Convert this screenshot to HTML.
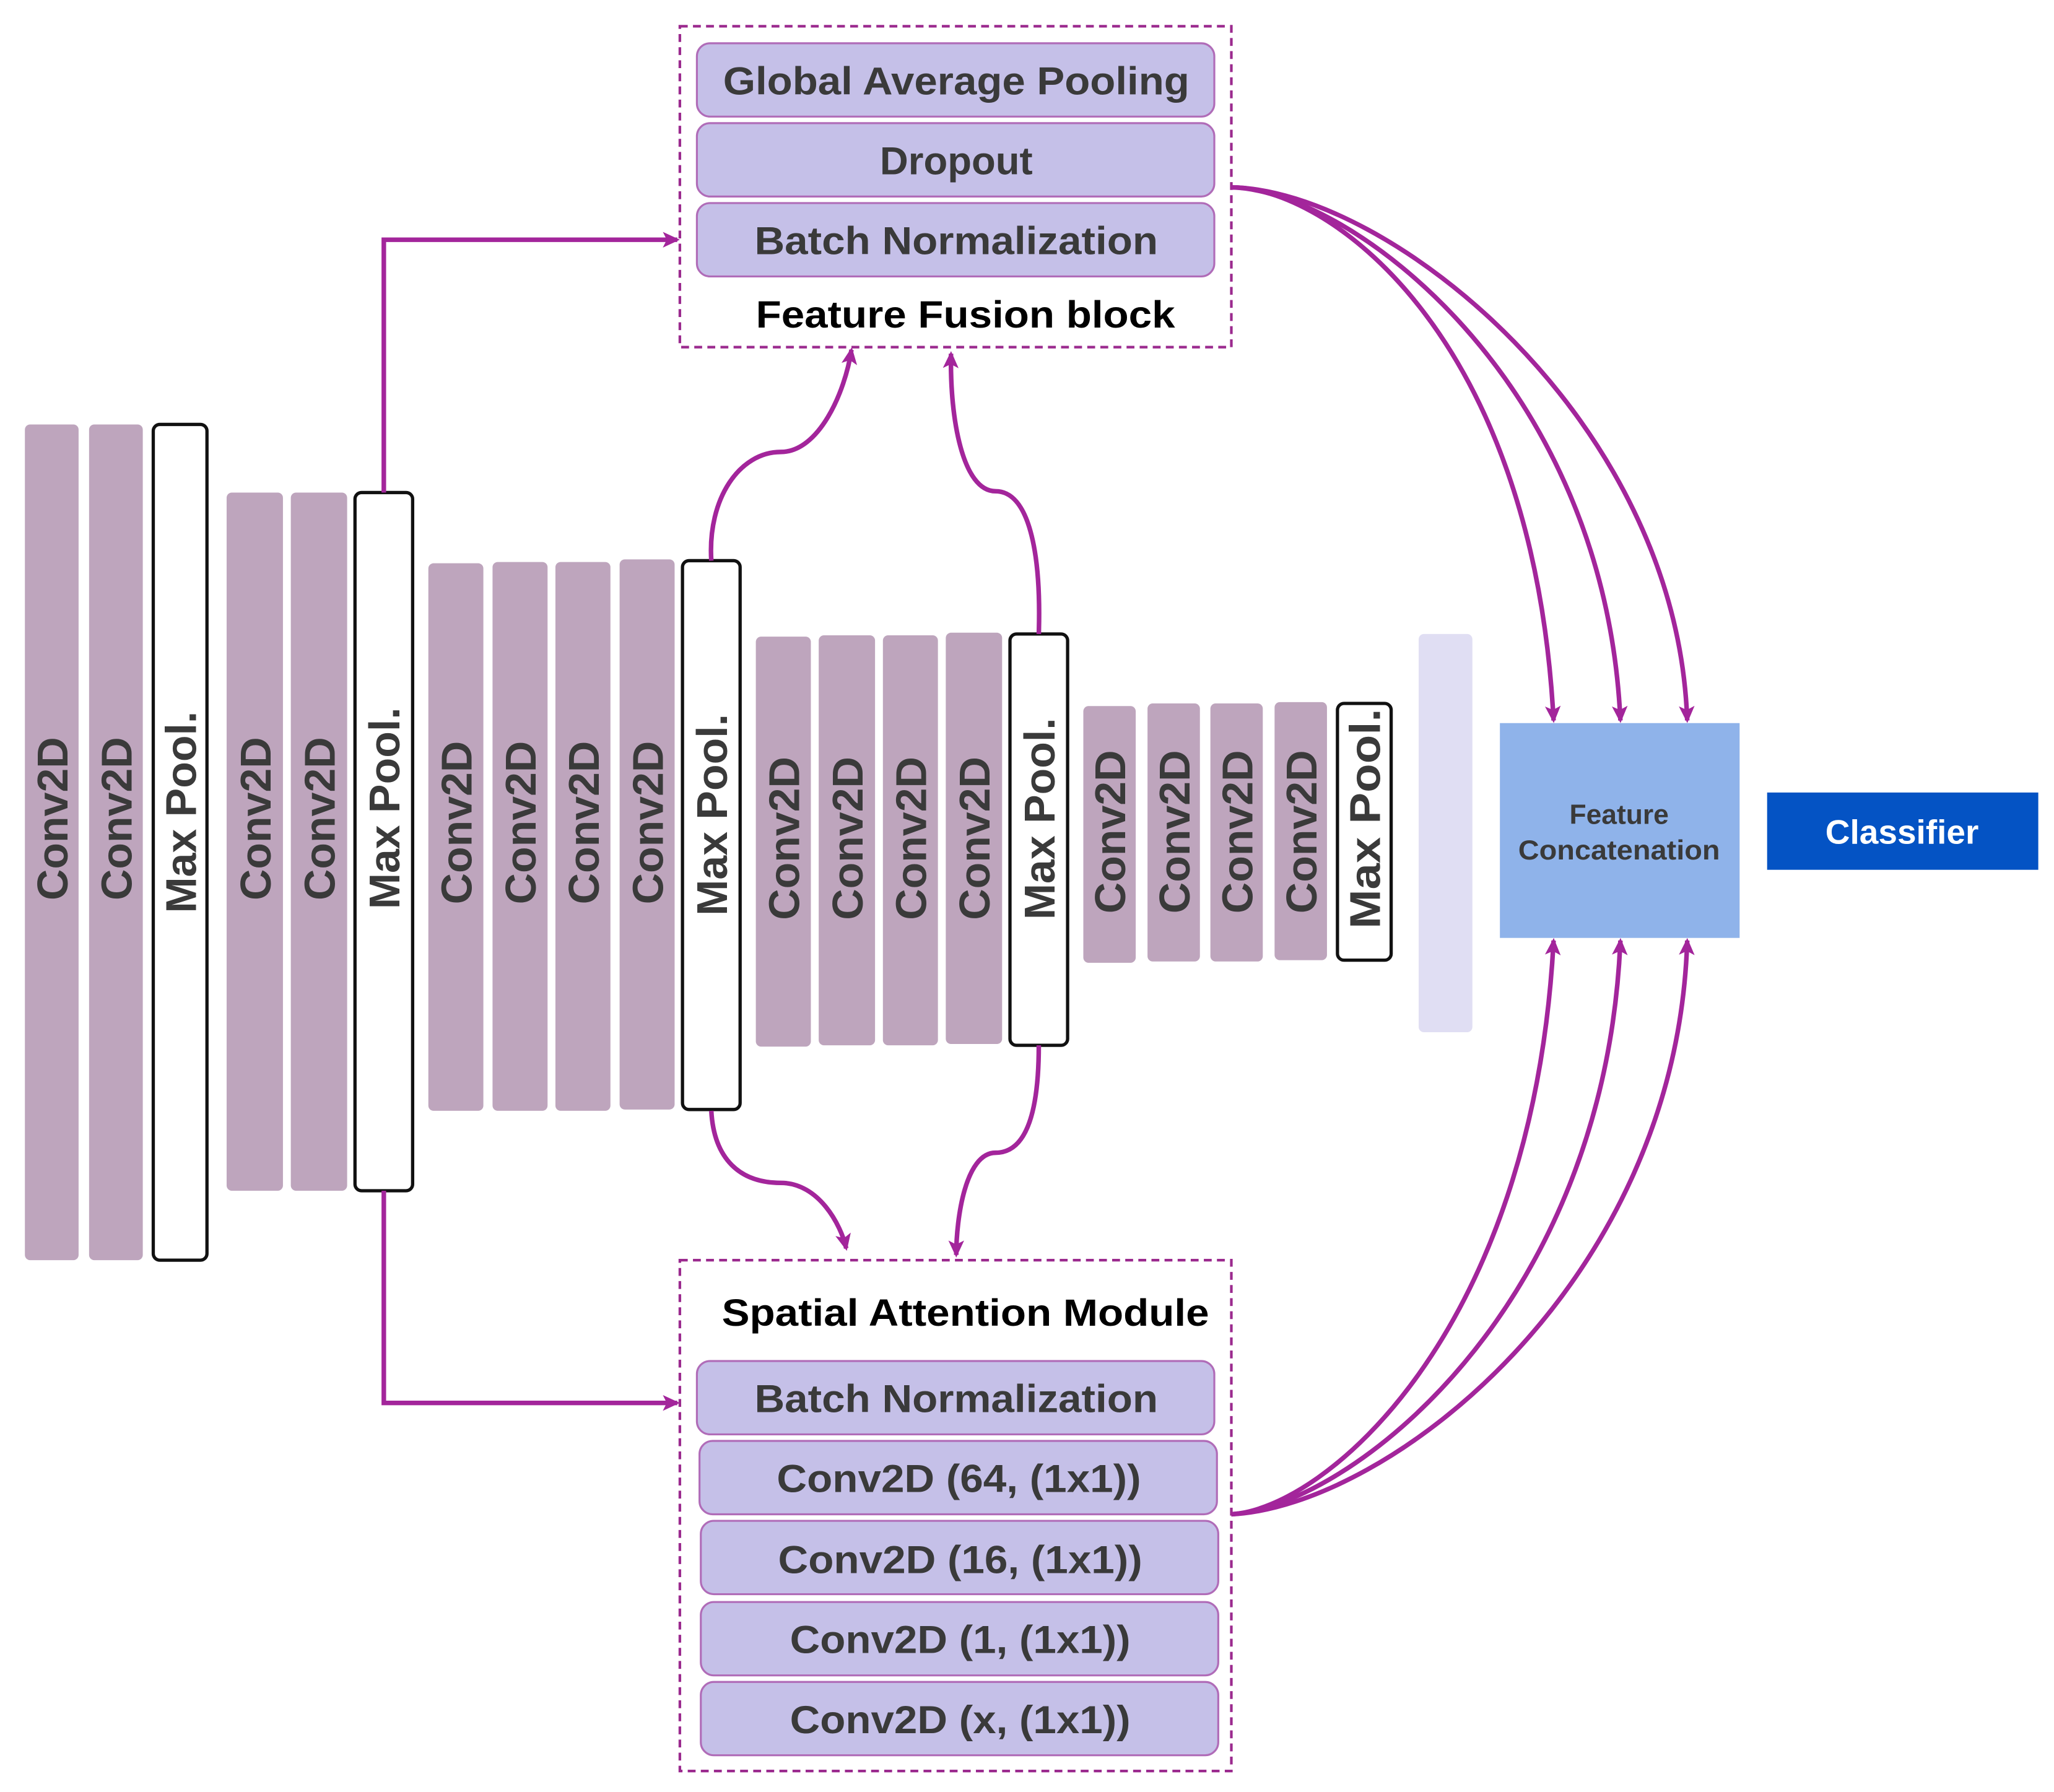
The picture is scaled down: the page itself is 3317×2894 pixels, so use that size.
<!DOCTYPE html>
<html><head><meta charset="utf-8"><style>html,body{margin:0;padding:0;background:#fff}svg{display:block}</style></head>
<body>
<svg xmlns="http://www.w3.org/2000/svg" width="3317" height="2894" viewBox="0 0 1568 1368">
<defs>
<marker id="ah" markerWidth="14" markerHeight="12" refX="11" refY="6" orient="auto" markerUnits="userSpaceOnUse">
<path d="M0,0 L13,6 L0,12 L3,6 z" fill="#a3259b"/>
</marker>
</defs>
<g font-family="Liberation Sans, Arial, sans-serif" font-weight="bold">
<rect x="519" y="20" width="421" height="245" fill="none" stroke="#9b2a8e" stroke-width="2" stroke-dasharray="6,4"/>
<g fill="#c5c0e8" stroke="#b06cb8" stroke-width="1.5">
<rect x="532" y="33" width="395" height="56" rx="10"/>
<rect x="532" y="94" width="395" height="56" rx="10"/>
<rect x="532" y="155" width="395" height="56" rx="10"/>
</g>
<g fill="#3a3a3a" font-size="30" text-anchor="middle">
<text x="730" y="72" textLength="356" lengthAdjust="spacingAndGlyphs">Global Average Pooling</text>
<text x="730" y="133">Dropout</text>
<text x="730" y="194" textLength="308" lengthAdjust="spacingAndGlyphs">Batch Normalization</text>
</g>
<text x="737" y="250" font-size="29" text-anchor="middle" fill="#000" textLength="320" lengthAdjust="spacingAndGlyphs">Feature Fusion block</text>

<rect x="519" y="962" width="421" height="390" fill="none" stroke="#9b2a8e" stroke-width="2" stroke-dasharray="6,4"/>
<text x="737" y="1012" font-size="29" text-anchor="middle" fill="#000" textLength="372" lengthAdjust="spacingAndGlyphs">Spatial Attention Module</text>
<g fill="#c5c0e8" stroke="#b06cb8" stroke-width="1.5">
<rect x="532" y="1039" width="395" height="56" rx="10"/>
<rect x="534" y="1100" width="395" height="56" rx="10"/>
<rect x="535" y="1161" width="395" height="56" rx="10"/>
<rect x="535" y="1223" width="395" height="56" rx="10"/>
<rect x="535" y="1284" width="395" height="56" rx="10"/>
</g>
<g fill="#3a3a3a" font-size="30" text-anchor="middle">
<text x="730" y="1078" textLength="308" lengthAdjust="spacingAndGlyphs">Batch Normalization</text>
<text x="732" y="1139" textLength="278" lengthAdjust="spacingAndGlyphs">Conv2D (64, (1x1))</text>
<text x="733" y="1201" textLength="278" lengthAdjust="spacingAndGlyphs">Conv2D (16, (1x1))</text>
<text x="733" y="1262" textLength="260" lengthAdjust="spacingAndGlyphs">Conv2D (1, (1x1))</text>
<text x="733" y="1323" textLength="260" lengthAdjust="spacingAndGlyphs">Conv2D (x, (1x1))</text>
</g>

<g fill="#bea5bd">
<rect x="19" y="324" width="41" height="638" rx="4"/>
<rect x="68" y="324" width="41" height="638" rx="4"/>
<rect x="173" y="376" width="43" height="533" rx="4"/>
<rect x="222" y="376" width="43" height="533" rx="4"/>
<rect x="327" y="430" width="42" height="418" rx="4"/>
<rect x="376" y="429" width="42" height="419" rx="4"/>
<rect x="424" y="429" width="42" height="419" rx="4"/>
<rect x="473" y="427" width="42" height="420" rx="4"/>
<rect x="577" y="486" width="42" height="313" rx="4"/>
<rect x="625" y="485" width="43" height="313" rx="4"/>
<rect x="674" y="485" width="42" height="313" rx="4"/>
<rect x="722" y="483" width="43" height="314" rx="4"/>
<rect x="827" y="539" width="40" height="196" rx="4"/>
<rect x="876" y="537" width="40" height="197" rx="4"/>
<rect x="924" y="537" width="40" height="197" rx="4"/>
<rect x="973" y="536" width="40" height="197" rx="4"/>
</g>
<g fill="#fff" stroke="#111" stroke-width="2.5">
<rect x="117" y="324" width="41" height="638" rx="5"/>
<rect x="271" y="376" width="44" height="533" rx="5"/>
<rect x="521" y="428" width="44" height="419" rx="5"/>
<rect x="771" y="484" width="44" height="314" rx="5"/>
<rect x="1021" y="537" width="41" height="196" rx="5"/>
</g>
<rect x="1083" y="484" width="41" height="304" rx="4" fill="#e0def3"/>
<g fill="#3a3a3a" font-size="33" text-anchor="middle">
<text transform="translate(39.5,625) rotate(-90)" dy="12">Conv2D</text>
<text transform="translate(88.5,625) rotate(-90)" dy="12">Conv2D</text>
<text transform="translate(137.5,620) rotate(-90)" dy="12">Max Pool.</text>
<text transform="translate(194.5,625) rotate(-90)" dy="12">Conv2D</text>
<text transform="translate(243.5,625) rotate(-90)" dy="12">Conv2D</text>
<text transform="translate(293,617) rotate(-90)" dy="12">Max Pool.</text>
<text transform="translate(348,628) rotate(-90)" dy="12">Conv2D</text>
<text transform="translate(397,628) rotate(-90)" dy="12">Conv2D</text>
<text transform="translate(445,628) rotate(-90)" dy="12">Conv2D</text>
<text transform="translate(494,628) rotate(-90)" dy="12">Conv2D</text>
<text transform="translate(543,622) rotate(-90)" dy="12">Max Pool.</text>
<text transform="translate(598,640) rotate(-90)" dy="12">Conv2D</text>
<text transform="translate(646.5,640) rotate(-90)" dy="12">Conv2D</text>
<text transform="translate(695,640) rotate(-90)" dy="12">Conv2D</text>
<text transform="translate(743.5,640) rotate(-90)" dy="12">Conv2D</text>
<text transform="translate(793,625) rotate(-90)" dy="12">Max Pool.</text>
<text transform="translate(847,635) rotate(-90)" dy="12">Conv2D</text>
<text transform="translate(896,635) rotate(-90)" dy="12">Conv2D</text>
<text transform="translate(944,635) rotate(-90)" dy="12">Conv2D</text>
<text transform="translate(993,635) rotate(-90)" dy="12">Conv2D</text>
<text transform="translate(1041.5,625) rotate(-90)" dy="12" textLength="168" lengthAdjust="spacingAndGlyphs">Max Pool.</text>
</g>

<rect x="1145" y="552" width="183" height="164" fill="#8fb3ea"/>
<g fill="#3a3a3a" font-size="21" text-anchor="middle">
<text x="1236" y="629">Feature</text>
<text x="1236" y="656" textLength="154" lengthAdjust="spacingAndGlyphs">Concatenation</text>
</g>
<rect x="1349" y="605" width="207" height="59" fill="#0453c4"/>
<text x="1452" y="644" font-size="26" fill="#fff" text-anchor="middle">Classifier</text>
</g>

<g fill="none" stroke="#a3259b" stroke-width="3.5">
<path d="M293,376 V183 H517" marker-end="url(#ah)"/>
<path d="M293,909 V1071 H517" marker-end="url(#ah)"/>
<path d="M543,428 C540,380 565,345 596,345 C625,345 645,300 650,267" marker-end="url(#ah)"/>
<path d="M793,484 C795,420 785,375 760,375 C735,375 725,320 726,270" marker-end="url(#ah)"/>
<path d="M543,848 C545,885 565,903 596,903 C625,903 642,935 646,953" marker-end="url(#ah)"/>
<path d="M793,798 C793,845 785,880 760,880 C737,880 730,930 730,958" marker-end="url(#ah)"/>
<path d="M940,143 C1010,142 1170,250 1186,550" marker-end="url(#ah)"/>
<path d="M940,143 C1030,145 1225,290 1237,550" marker-end="url(#ah)"/>
<path d="M940,143 C1060,145 1280,320 1288,550" marker-end="url(#ah)"/>
<path d="M940,1156 C1010,1152 1170,1020 1186,718" marker-end="url(#ah)"/>
<path d="M940,1156 C1030,1150 1225,1000 1237,718" marker-end="url(#ah)"/>
<path d="M940,1156 C1060,1150 1280,980 1288,718" marker-end="url(#ah)"/>
</g>
</svg>
</body></html>
